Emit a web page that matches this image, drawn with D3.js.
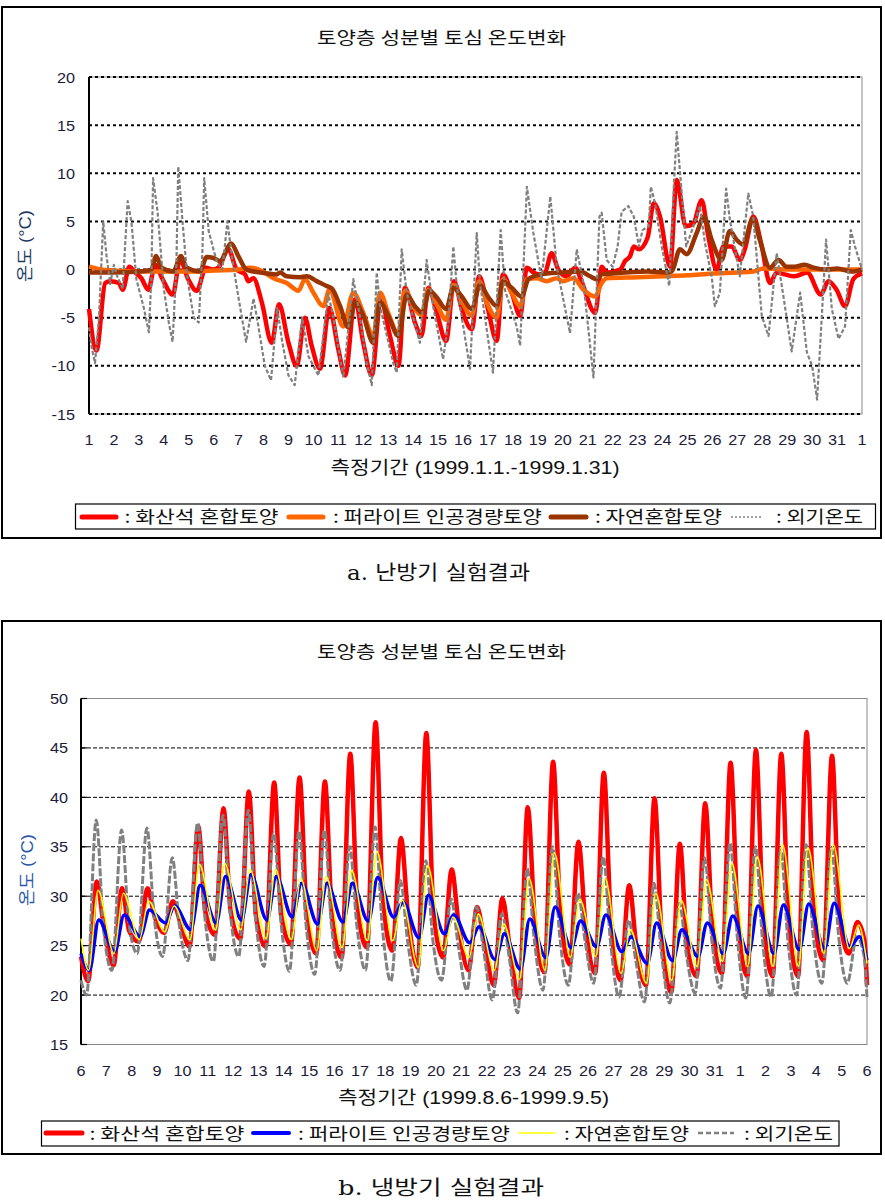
<!DOCTYPE html>
<html><head><meta charset="utf-8">
<script src="https://cdn.jsdelivr.net/npm/d3@7"></script>
<style>body{margin:0;background:#fff} svg{display:block}</style>
</head><body>
<svg id="c" width="885" height="1204"></svg>
<script>
// ---------------- DATA ----------------
const chartTitle = "토양층 성분별 토심 온도변화";
const yTitle = "온도 (°C)";
// a. winter (heating) — [day offset from 1999.1.1, °C]
const winterTicks = [20, 15, 10, 5, 0, -5, -10, -15];
const winterLabels = d3.range(1, 32).map(String).concat(["1"]);
const winterAxisTitle = "측정기간 (1999.1.1.-1999.1.31)";
const winterVolcanic = [[0,-4.1],[0.3,-8.4],[0.65,-1.4],[0.85,-1.2],[1.2,-1.4],[1.35,-2.1],[1.62,0.3],[1.85,-0.3],[2.1,-0.9],[2.38,-2.1],[2.65,0.5],[2.95,-1.0],[3.36,-2.6],[3.65,1.0],[3.98,-1.0],[4.32,-2.2],[4.69,0.2],[4.95,0],[5.19,0.2],[5.59,2.1],[5.92,0],[6.26,-0.5],[6.39,-1.2],[6.59,-0.9],[6.93,-3.4],[7.33,-7.6],[7.62,-3.6],[8.0,-7.6],[8.33,-10.0],[8.66,-5.0],[8.93,-7.9],[9.26,-10.3],[9.64,-4.0],[10.0,-8.3],[10.27,-11.0],[10.67,-3.1],[11.0,-7.6],[11.34,-11.0],[11.7,-3.1],[12.07,-6.9],[12.41,-10.0],[12.67,-1.9],[13.07,-5.5],[13.33,-6.9],[13.61,-1.9],[13.95,-4.5],[14.32,-7.4],[14.64,-1.2],[14.95,-4.1],[15.35,-6.2],[15.65,-0.7],[16.0,-4.1],[16.35,-7.4],[16.6,-0.5],[16.95,-2.4],[17.29,-4.8],[17.56,0.2],[17.82,-0.3],[18.05,-0.5],[18.29,-0.3],[18.55,1.7],[18.82,0],[19.15,-0.7],[19.5,0.2],[19.75,-1.2],[20.3,-4.5],[20.56,0.3],[20.76,-0.3],[21.3,0],[21.5,0.9],[21.7,1.4],[21.85,2.4],[22.05,2.1],[22.4,3.3],[22.65,6.9],[22.9,5.5],[23.3,0.3],[23.57,9.3],[23.93,4.5],[24.24,4.8],[24.57,7.2],[24.84,3.4],[25.17,0],[25.44,2.4],[25.78,2.4],[26.1,1.0],[26.3,2.1],[26.64,5.5],[26.98,2.4],[27.31,-1.4],[27.58,-0.3],[27.9,-0.5],[28.3,-0.7],[28.8,-0.3],[29.35,-2.6],[29.65,-1.2],[29.98,-2.1],[30.32,-3.8],[30.65,-1.0],[31,-0.4]];
const winterPerlite = [[0,0.3],[0.5,0],[1,-0.1],[2,-0.2],[3,-0.2],[4,-0.2],[5,-0.1],[6,0],[6.46,0.2],[6.9,-0.1],[7.4,-0.9],[7.93,-1.4],[8.4,-2.2],[8.66,-1.0],[9.0,-2.4],[9.4,-3.8],[9.64,-2.1],[10.2,-5.9],[10.6,-2.4],[11.0,-4.5],[11.4,-6.9],[11.67,-2.4],[12.0,-4.5],[12.41,-6.7],[12.67,-2.2],[13.07,-4.1],[13.33,-4.7],[13.61,-2.1],[13.95,-3.6],[14.32,-5.2],[14.61,-1.6],[14.95,-3.3],[15.35,-4.8],[15.65,-1.2],[15.95,-3.4],[16.35,-5.0],[16.6,-1.0],[16.95,-2.4],[17.29,-3.8],[17.56,-1.0],[17.95,-0.9],[18.35,-1.2],[18.76,-0.9],[19.0,-1.2],[19.43,-0.9],[19.83,-2.1],[20.3,-2.8],[20.56,-1.4],[20.76,-0.9],[22,-0.8],[23,-0.7],[24,-0.6],[25,-0.4],[26,-0.3],[26.64,-0.2],[27.05,0.1],[28,0],[29,0],[30,0],[31,0]];
const winterNatural = [[0,-0.3],[1,-0.3],[2,-0.2],[2.5,0],[2.69,1.4],[2.91,0.2],[3.38,-0.2],[3.69,1.4],[3.92,0.2],[4.45,-0.2],[4.72,1.3],[4.99,1.2],[5.25,0.9],[5.7,2.7],[5.99,1.4],[6.32,0],[6.86,-0.3],[7.53,-0.5],[7.66,-0.3],[7.93,-0.7],[8.46,-0.8],[8.73,-0.7],[9.13,-1.2],[9.53,-1.7],[9.75,-2.0],[10.07,-3.8],[10.4,-6.0],[10.67,-3.4],[11.0,-4.8],[11.4,-7.6],[11.67,-3.4],[12.0,-4.8],[12.41,-6.9],[12.74,-2.6],[13.07,-3.8],[13.38,-4.5],[13.65,-2.2],[13.95,-2.9],[14.32,-4.1],[14.61,-1.9],[14.95,-2.8],[15.35,-4.1],[15.68,-1.6],[16.0,-2.8],[16.35,-3.8],[16.6,-1.2],[16.95,-1.9],[17.35,-2.8],[17.62,-1.0],[17.95,-0.6],[18.35,-0.4],[19,-0.3],[19.7,-0.2],[20.1,-0.7],[20.36,-1.0],[20.56,-0.5],[21,-0.4],[22.4,-0.2],[23.17,-0.3],[23.37,-0.2],[23.7,2.1],[23.97,1.6],[24.37,3.8],[24.66,5.5],[24.97,3.1],[25.37,1.0],[25.7,4.0],[25.97,3.1],[26.24,2.6],[26.62,5.3],[26.9,3.1],[27.31,0.2],[27.65,1.0],[27.98,0.3],[28.3,0.3],[28.7,0.5],[29.05,0.2],[29.6,0],[30,0.1],[30.6,-0.2],[31,0]];
const winterAir = [[0,-6],[0.1,-8],[0.24,-9.7],[0.4,-5],[0.57,5.0],[0.7,1.5],[0.85,-1.5],[1.0,0.5],[1.1,-0.5],[1.35,-2],[1.55,7.1],[1.7,5],[1.9,-1],[2.2,-4],[2.4,-6.5],[2.5,-1],[2.57,9.5],[2.75,6],[3.0,-2],[3.2,-5.5],[3.35,-7.5],[3.5,0],[3.58,10.7],[3.75,5],[3.95,-1],[4.2,-5],[4.4,-5.5],[4.55,2],[4.62,9.5],[4.8,4],[5.0,2],[5.15,0.7],[5.35,0],[5.55,5],[5.75,1],[6.0,-3],[6.3,-7.5],[6.6,-3],[6.8,-6],[7.05,-10],[7.3,-11.5],[7.55,-4],[7.75,-7.5],[8.0,-11],[8.25,-12],[8.55,-5],[8.8,-9],[9.2,-11],[9.6,-2.5],[9.8,-5],[10.2,-11.2],[10.6,-1.0],[10.8,-3.8],[11.14,-9.7],[11.34,-12],[11.54,-0.3],[11.67,-3.8],[12.2,-9.7],[12.34,-10.7],[12.54,2.1],[12.74,-2.4],[13.27,-7.6],[13.54,1.0],[13.8,-3.8],[14.2,-9.3],[14.41,-5.5],[14.61,2.4],[14.75,-1.7],[15.28,-10.3],[15.55,3.8],[15.68,-1.4],[16.2,-10.7],[16.51,4.1],[16.68,-2.1],[17.15,-5.9],[17.29,-7.9],[17.56,8.6],[17.82,3.8],[18.15,-1.0],[18.5,7.6],[18.76,0.3],[19.29,-6.6],[19.56,2.1],[19.83,-1.4],[20.23,-11.2],[20.47,5.5],[20.56,5.9],[20.76,1.0],[21.0,0.3],[21.2,2.4],[21.36,6.0],[21.63,6.6],[21.85,5.5],[22.05,2.4],[22.2,4.1],[22.45,4.5],[22.53,8.6],[22.7,6.9],[22.97,2.4],[23.27,-1.7],[23.46,9.0],[23.57,14.3],[23.77,7.9],[23.95,2.4],[24.24,4.5],[24.5,6.6],[24.7,2.8],[24.97,-0.7],[25.1,-3.8],[25.3,-2.4],[25.55,8.4],[25.7,5.2],[26.1,-0.7],[26.44,7.9],[26.64,5.5],[26.98,-4.8],[27.25,-6.9],[27.58,1.7],[27.85,-2.8],[28.18,-8.5],[28.52,-2.4],[28.79,-8.6],[29.0,-10],[29.2,-13.5],[29.56,3.1],[29.79,-4.1],[30.06,-7.2],[30.32,-5.9],[30.55,4.1],[30.72,2.4],[31,0]];

// b. summer (cooling) — daily troughs / peaks, day 0 = 1999.8.6
const summerTicks = [50, 45, 40, 35, 30, 25, 20, 15];
const summerLabels = d3.range(6, 32).map(String).concat(["1","2","3","4","5","6"]);
const summerAxisTitle = "측정기간 (1999.8.6-1999.9.5)";
const volcanicMin = [21.4,23.0,25.4,26.3,24.9,26.1,25.7,24.9,25.1,24.2,23.8,24.8,24.5,22.8,23.8,22.5,21.0,19.7,22.3,23.1,22.2,21.5,21.0,20.3,21.9,22.2,21.9,21.9,21.9,23.5,24.2];
const volcanicMax = [31.5,30.8,30.8,29.5,37.1,38.9,40.6,41.5,42.0,41.6,44.4,47.6,35.9,46.5,32.7,28.9,29.8,39.0,43.6,35.5,42.5,31.1,39.9,35.3,39.4,43.5,44.8,44.4,46.6,44.2,27.4];
const volcanicEve = [27.0,26.5,28.0,27.5,28.5,28.5,28.0,28.0,28.5,28.0,29.0,30.0,28.0,28.5,27.0,25.5,25.0,27.5,28.5,27.0,27.5,25.0,26.0,25.0,27.0,28.0,28.0,28.0,28.5,28.5,25.5];
const volcanicEnds = [23.9, 21.0];
const perliteMin = [22.5,24.4,25.9,27.3,26.6,27.3,27.6,27.6,27.9,27.2,27.4,27.5,27.9,25.8,26.2,25.3,23.6,22.6,23.8,24.8,24.9,24.4,23.2,23.5,23.9,24.2,24.2,24.2,24.6,24.7,24.9];
const perliteMax = [27.6,28.1,28.6,29.0,31.1,32.0,32.2,32.0,31.3,31.3,31.3,31.9,29.4,30.1,28.1,26.9,26.2,27.7,28.9,27.5,28.1,25.9,27.3,26.6,27.3,28.0,29.0,29.1,29.2,29.3,25.9];
const perliteEnds = [24.2, 23.5];
const naturalMin = [22.5,24.2,25.6,26.4,25.6,26.6,26.6,25.7,25.6,24.5,24.8,25.5,25.5,22.8,24.5,23.8,22.5,21.6,22.5,23.8,23.9,22.2,21.2,21.5,22.9,23.4,22.9,22.9,22.9,24.2,24.7];
const naturalMax = [30.6,30.3,29.5,29.0,33.2,33.3,32.7,32.7,31.8,32.0,32.6,34.5,29.6,33.1,27.9,28.2,27.2,31.8,34.4,29.7,31.8,26.6,30.3,29.6,31.7,33.3,34.0,35.2,34.9,35.2,27.1];
const naturalEnds = [25.7, 23.2];
const airMin = [20.0,22.5,24.2,23.9,23.5,23.4,23.9,22.9,22.4,22.1,22.5,22.5,21.4,21.0,21.5,20.5,19.5,18.2,20.5,21.0,21.2,19.8,19.3,19.2,20.2,20.7,19.7,19.8,20.0,21.2,21.2];
const airMax = [37.7,36.7,36.9,33.9,37.4,38.2,38.7,36.4,36.6,36.7,35.0,37.0,31.6,33.6,29.7,28.9,28.2,32.8,35.0,30.3,34.0,27.6,31.3,29.3,33.9,35.4,35.0,34.7,35.2,34.9,25.9];
const airEve = [27,27.5,28,27,28,28.5,28,27.5,27,27,27,27,25.5,25.5,25,24.5,24,25.5,26,25.5,25.5,23.5,24.5,24,25.5,26,25.5,25.5,26,26,24];
const airEnds = [21.5, 19.8];

const legendNames = [": 화산석 혼합토양", ": 퍼라이트 인공경량토양", ": 자연혼합토양", ": 외기온도"];

// ---------------- DRAW ----------------
const svg = d3.select("#c");
svg.append("rect").attr("width",885).attr("height",1204).attr("fill","#fff");
const KR = "'Noto Sans CJK KR', sans-serif";
const NUM = "'Liberation Sans', Arial, 'Noto Sans CJK KR', sans-serif";
const SERIF = "'DejaVu Serif', 'Noto Sans CJK KR', serif";

function txt(g, x, y, s, o) {
  o = o || {};
  const sx = o.sx || 1.12;
  const t = g.append("text")
    .attr("transform", `translate(${x},${y})${o.rot ? ` rotate(${o.rot})` : ""} scale(${o.rot ? 1 : sx},1)`)
    .attr("font-family", o.family || KR)
    .attr("font-size", o.size || 16)
    .attr("fill", o.fill || "#111")
    .attr("text-anchor", o.anchor || "start")
    .text(s);
  if (o.len) t.attr("textLength", o.len / (o.rot ? 1 : sx)).attr("lengthAdjust", "spacingAndGlyphs");
  if (o.ls) t.attr("letter-spacing", o.ls);
  return t;
}

function dailySeries(ends, mins, tMin, maxs, tMax, eves, tEve) {
  const pts = [[0, ends[0]]];
  mins.forEach((m, i) => {
    pts.push([i + tMin, m]);
    pts.push([i + tMax, maxs[i]]);
    if (eves) pts.push([i + tEve, eves[i]]);
  });
  pts.push([31, ends[1]]);
  return pts;
}

// ===== Chart a =====
(function(){
  const g = svg.append("g");
  g.append("rect").attr("x",2).attr("y",7).attr("width",879).attr("height",531)
    .attr("fill","none").attr("stroke","#000").attr("stroke-width",2);
  const x = d3.scaleLinear().domain([0,31]).range([89,862]);
  const y = d3.scaleLinear().domain([-15,20]).range([414,77]);
  txt(g, 441.5, 44, chartTitle, {size:17, anchor:"middle", len:249});
  g.append("rect").attr("x",89).attr("y",77).attr("width",773).attr("height",337)
    .attr("fill","none").attr("stroke","#888").attr("stroke-width",1);
  winterTicks.forEach(v => {
    g.append("line").attr("x1",89).attr("x2",862).attr("y1",y(v)).attr("y2",y(v))
      .attr("stroke","#000").attr("stroke-width",2).attr("stroke-dasharray","3,3");
    txt(g, 75, y(v)+5.5, String(v).replace("-","−").replace("−","-"), {family:NUM, size:14.5, anchor:"end", fill:"#1c1c3a"});
  });
  g.append("line").attr("x1",89).attr("x2",89).attr("y1",77).attr("y2",414)
    .attr("stroke","#000").attr("stroke-width",2);
  winterLabels.forEach((l,i) => txt(g, x(i), 445, l, {family:NUM, size:14.5, anchor:"middle", fill:"#1c1c3a"}));
  txt(g, 475, 474, winterAxisTitle, {size:18, anchor:"middle", len:289, family:NUM});
  txt(g, 31, 246, yTitle, {size:17, anchor:"middle", rot:-90, len:72, fill:"#1f3a5f", family:NUM});

  const smooth = d3.line().x(d=>x(d[0])).y(d=>y(d[1])).curve(d3.curveMonotoneX);
  const sharp = d3.line().x(d=>x(d[0])).y(d=>y(d[1]));
  const series = [
    {d:winterVolcanic, c:"#ff0000", w:4.5, l:smooth},
    {d:winterPerlite, c:"#ff6600", w:4.5, l:smooth},
    {d:winterNatural, c:"#993300", w:4.5, l:smooth},
    {d:winterAir, c:"#808080", w:2.2, l:sharp, dash:"4,2"}
  ];
  series.forEach(s => g.append("path").attr("d", s.l(s.d)).attr("fill","none")
    .attr("stroke", s.c).attr("stroke-width", s.w).attr("stroke-linejoin","round")
    .attr("stroke-dasharray", s.dash || null));

  // legend
  g.append("rect").attr("x",75.5).attr("y",504).attr("width",800).attr("height",25)
    .attr("fill","#fff").attr("stroke","#000").attr("stroke-width",1.2);
  const items = [
    {x1:82,x2:116,c:"#ff0000",w:5,tx:124.5,len:154},
    {x1:289,x2:323,c:"#ff6600",w:5,tx:333,len:209},
    {x1:551,x2:586,c:"#993300",w:5,tx:595,len:127},
    {x1:731,x2:762,c:"#808080",w:1.5,dash:"2,2",tx:776,len:87}
  ];
  items.forEach((it,i) => {
    g.append("line").attr("x1",it.x1).attr("x2",it.x2).attr("y1",517).attr("y2",517)
      .attr("stroke",it.c).attr("stroke-width",it.w).attr("stroke-linecap", it.dash?"butt":"round")
      .attr("stroke-dasharray", it.dash||null);
    txt(g, it.tx, 522.5, legendNames[i], {size:17, len:it.len});
  });
  txt(g, 438.5, 580, "a. 난방기 실험결과", {family:SERIF, size:20, anchor:"middle", len:183});
})();

// ===== Chart b =====
(function(){
  const g = svg.append("g");
  g.append("rect").attr("x",2).attr("y",621).attr("width",879).attr("height",533)
    .attr("fill","none").attr("stroke","#000").attr("stroke-width",2);
  const x = d3.scaleLinear().domain([0,31]).range([81,867]);
  const y = d3.scaleLinear().domain([15,50]).range([1044.5,698.5]);
  txt(g, 441.5, 658, chartTitle, {size:17, anchor:"middle", len:249});
  g.append("rect").attr("x",81).attr("y",698.5).attr("width",786).attr("height",346)
    .attr("fill","none").attr("stroke","#888").attr("stroke-width",1);
  summerTicks.forEach(v => {
    if (v !== 50 && v !== 15)
      g.append("line").attr("x1",81).attr("x2",867).attr("y1",y(v)).attr("y2",y(v))
        .attr("stroke","#000").attr("stroke-width",1).attr("stroke-dasharray","4,2");
    g.append("line").attr("x1",81).attr("x2",87).attr("y1",y(v)).attr("y2",y(v))
      .attr("stroke","#000").attr("stroke-width",1.2);
    txt(g, 68, y(v)+5.5, String(v), {family:NUM, size:14.5, anchor:"end", fill:"#1c1c3a"});
  });
  g.append("line").attr("x1",81).attr("x2",81).attr("y1",698.5).attr("y2",1044.5)
    .attr("stroke","#000").attr("stroke-width",2);
  summerLabels.forEach((l,i) => txt(g, x(i), 1075.5, l, {family:NUM, size:14.5, anchor:"middle", fill:"#1c1c3a"}));
  txt(g, 473.5, 1104, summerAxisTitle, {size:18, anchor:"middle", len:271, family:NUM});
  txt(g, 33, 870, yTitle, {size:17, anchor:"middle", rot:-90, len:72, fill:"#2a56a8", family:NUM});

  const line = d3.line().x(d=>x(d[0])).y(d=>y(d[1])).curve(d3.curveMonotoneX);
  const series = [
    {d:dailySeries(volcanicEnds, volcanicMin, 0.28, volcanicMax, 0.62, volcanicEve, 0.9), c:"#ff0000", w:4.5},
    {d:dailySeries(airEnds, airMin, 0.22, airMax, 0.6, airEve, 0.88), c:"#808080", w:3, dash:"8,2"},
    {d:dailySeries(perliteEnds, perliteMin, 0.33, perliteMax, 0.7), c:"#0000ff", w:3.5},
    {d:dailySeries(naturalEnds, naturalMin, 0.3, naturalMax, 0.67), c:"#ffff00", w:1.5}
  ];
  series.forEach(s => g.append("path").attr("d", line(s.d)).attr("fill","none")
    .attr("stroke", s.c).attr("stroke-width", s.w).attr("stroke-linejoin","round")
    .attr("stroke-dasharray", s.dash || null));

  g.append("rect").attr("x",41.5).attr("y",1121).attr("width",797.5).attr("height",25)
    .attr("fill","#fff").attr("stroke","#000").attr("stroke-width",1.2);
  const items = [
    {x1:46,x2:82,c:"#ff0000",w:5,tx:89.5,len:155},
    {x1:253,x2:289,c:"#0000ff",w:4,tx:298,len:212},
    {x1:519,x2:555,c:"#ffff00",w:1.5,tx:564,len:125},
    {x1:698,x2:734,c:"#808080",w:2.5,dash:"5,3",tx:744,len:89}
  ];
  items.forEach((it,i) => {
    g.append("line").attr("x1",it.x1).attr("x2",it.x2).attr("y1",1133).attr("y2",1133)
      .attr("stroke",it.c).attr("stroke-width",it.w).attr("stroke-linecap", it.dash?"butt":"round")
      .attr("stroke-dasharray", it.dash||null);
    txt(g, it.tx, 1139.5, legendNames[i], {size:17, len:it.len});
  });
  txt(g, 441, 1195, "b. 냉방기 실험결과", {family:SERIF, size:20, anchor:"middle", len:206});
})();
</script>
</body></html>
